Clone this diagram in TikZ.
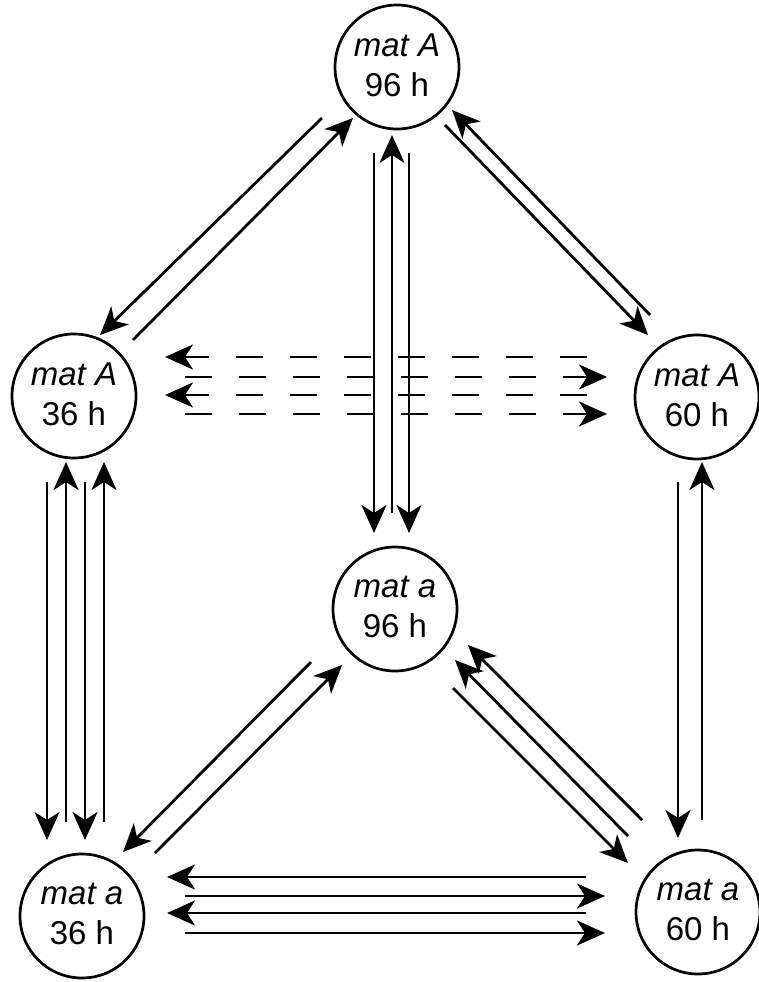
\documentclass[tikz,border=0pt]{standalone}
\usepackage{fontspec}
\setmainfont{Liberation Sans}
\usetikzlibrary{arrows.meta,calc}
% second line of a state label, with a little extra depth
\newcommand{\lowline}[1]{#1\rule[-4pt]{0pt}{4pt}}
\begin{document}
\begin{tikzpicture}[x=1pt,y=-1pt,
  state/.style={circle,draw,line width=2.7pt,minimum size=124pt,inner sep=0pt,
    align=center,font=\fontsize{33}{40}\selectfont},
  link/.style={line width=2.8pt},
  arr/.style={link,-{Stealth[length=28pt,width=25pt,inset=8pt]}},
  darr/.style={arr,dash pattern=on 27pt off 27pt}]
\useasboundingbox (0,0) rectangle (758,982);

% mating-type states
\node[state] (A96) at (397,67)  {\textit{mat A}\\\lowline{96 h}};
\node[state] (A36) at (74,396)  {\textit{mat A}\\\lowline{36 h}};
\node[state] (A60) at (697,397) {\textit{mat A}\\\lowline{60 h}};
\node[state] (a96) at (395,609) {\textit{mat a}\\\lowline{96 h}};
\node[state] (a36) at (82,916)  {\textit{mat a}\\\lowline{36 h}};
\node[state] (a60) at (698,912) {\textit{mat a}\\\lowline{60 h}};

% A96 -- A36
\draw[arr] ($(A96)+(-75,51)$) -- ($(A36)+(26,-61)$);
\draw[arr] ($(A36)+(59,-56)$) -- ($(A96)+(-44,51)$);

% A96 -- A60
\draw[arr] ($(A96)+(48,58)$) -- ($(A60)+(-49,-62)$);
\draw[arr] ($(A60)+(-47,-82)$) -- ($(A96)+(55,43)$);

% A36 -- A60 (dashed)
\draw[darr] ($(A60)+(-110,-40)$) -- ($(A36)+(91,-39)$);
\draw[darr] ($(A36)+(111,-19)$) -- ($(A60)+(-90,-20)$);
\draw[darr] ($(A60)+(-110,-2)$) -- ($(A36)+(91,-1)$);
\draw[darr] ($(A36)+(111,18)$) -- ($(A60)+(-90,17)$);

% A96 -- a96
\draw[arr] ($(a96)+(-3,-96)$) -- ($(A96)+(-5,68)$);
\draw[arr] ($(A96)+(-23,86)$) -- ($(a96)+(-21,-76)$);
\draw[arr] ($(A96)+(12,86)$) -- ($(a96)+(14,-76)$);

% A36 -- a36
\draw[arr] ($(A36)+(-27,86)$) -- ($(a36)+(-35,-76)$);
\draw[arr] ($(A36)+(11,86)$) -- ($(a36)+(3,-76)$);
\draw[arr] ($(a36)+(-16,-94)$) -- ($(A36)+(-8,66)$);
\draw[arr] ($(a36)+(22,-94)$) -- ($(A36)+(30,66)$);

% A60 -- a60
\draw[arr] ($(A60)+(-19,85)$) -- ($(a60)+(-20,-74)$);
\draw[arr] ($(a60)+(4,-92)$) -- ($(A60)+(5,65)$);

% a96 -- a36
\draw[arr] ($(a96)+(-84,53)$) -- ($(a36)+(41,-64)$);
\draw[arr] ($(a36)+(73,-63)$) -- ($(a96)+(-53,56)$);

% a96 -- a60
\draw[arr] ($(a96)+(58,79)$) -- ($(a60)+(-70,-49)$);
\draw[arr] ($(a60)+(-70,-76)$) -- ($(a96)+(60,51)$);
\draw[arr] ($(a60)+(-56,-92)$) -- ($(a96)+(73,36)$);

% a36 -- a60
\draw[arr] ($(a60)+(-112,-35)$) -- ($(a36)+(85,-39)$);
\draw[arr] ($(a36)+(103,-20)$) -- ($(a60)+(-93,-16)$);
\draw[arr] ($(a60)+(-112,1)$) -- ($(a36)+(85,-3)$);
\draw[arr] ($(a36)+(103,17)$) -- ($(a60)+(-93,21)$);
\end{tikzpicture}
\end{document}
